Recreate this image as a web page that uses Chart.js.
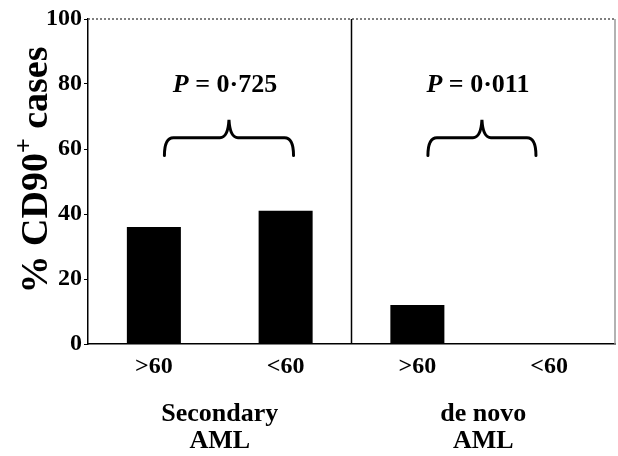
<!DOCTYPE html>
<html lang="en">
<head>
<meta charset="UTF-8">
<script src="https://cdn.jsdelivr.net/npm/chart.js@4.4.0/dist/chart.umd.min.js"></script>
<title>CD90 cases</title>
<style>
    body{margin:0; background:#fff;}
    canvas{display:block;}
</style>
</head>
<body>
<canvas id="myChart" width="618" height="456"></canvas>
<script>
    // data
    const categories = ['>60', '<60', '>60', '<60'];
    const values = [36, 41, 12, 0];
    const groupNames = [['Secondary', 'AML'], ['de novo', 'AML']];
    const pValues = ['0·725', '0·011'];
    const yTicks = [0, 20, 40, 60, 80, 100];
    const yTitle = ['% CD90', '+', ' cases'];

    const serif = "'Liberation Serif', 'Times New Roman', serif";

    // frame, divider, braces, p-values, axis title and group names
    const extras = {
        id: 'extras',
        afterDraw(chart) {
            const ctx = chart.ctx;
            const a = chart.chartArea;
            const x = chart.scales.x;
            const y = chart.scales.y;
            ctx.save();

            // dotted top line
            ctx.strokeStyle = '#555';
            ctx.lineWidth = 1.5;
            ctx.setLineDash([2, 2]);
            ctx.beginPath();
            ctx.moveTo(a.left, a.top);
            ctx.lineTo(a.right, a.top);
            ctx.stroke();
            ctx.setLineDash([]);

            // right border
            ctx.strokeStyle = '#999';
            ctx.lineWidth = 1.5;
            ctx.beginPath();
            ctx.moveTo(a.right, a.top);
            ctx.lineTo(a.right, a.bottom);
            ctx.stroke();

            // divider between the two groups
            const mid = (x.getPixelForValue(1) + x.getPixelForValue(2)) / 2;
            ctx.strokeStyle = '#000';
            ctx.lineWidth = 1.5;
            ctx.beginPath();
            ctx.moveTo(mid, a.top);
            ctx.lineTo(mid, a.bottom);
            ctx.stroke();

            const px = v => {
                const i = Math.floor(v);
                const f = v - i;
                const step = x.getPixelForValue(1) - x.getPixelForValue(0);
                return x.getPixelForValue(i) + f * step;
            };

            // braces
            const braces = [[0.08, 0.57, 1.06], [2.08, 2.49, 2.9]];
            const yEnd = y.getPixelForValue(58);
            const yArm = y.getPixelForValue(63.5);
            const yTop = y.getPixelForValue(69);
            ctx.lineWidth = 3;
            ctx.lineCap = 'round';
            braces.forEach(b => {
                const x0 = px(b[0]), xm = px(b[1]), x1 = px(b[2]);
                const r = 9;
                ctx.beginPath();
                ctx.moveTo(x0, yEnd);
                ctx.quadraticCurveTo(x0, yArm, x0 + r, yArm);
                ctx.lineTo(xm - r, yArm);
                ctx.quadraticCurveTo(xm - 1, yArm, xm, yTop);
                ctx.quadraticCurveTo(xm + 1, yArm, xm + r, yArm);
                ctx.lineTo(x1 - r, yArm);
                ctx.quadraticCurveTo(x1, yArm, x1, yEnd);
                ctx.stroke();
            });

            // p-values
            ctx.fillStyle = '#000';
            ctx.textBaseline = 'middle';
            ctx.textAlign = 'left';
            const yP = y.getPixelForValue(79.5);
            const italic = 'italic bold 26px ' + serif;
            const bold = 'bold 26px ' + serif;
            pValues.forEach((p, k) => {
                const cx = px(braces[k][1]) - 4;
                ctx.font = italic;
                const w1 = ctx.measureText('P').width;
                ctx.font = bold;
                const rest = ' = ' + p;
                const w2 = ctx.measureText(rest).width;
                const sx = cx - (w1 + w2) / 2;
                ctx.font = italic;
                ctx.fillText('P', sx, yP);
                ctx.font = bold;
                ctx.fillText(rest, sx + w1, yP);
            });

            // y axis title, with a raised plus sign
            ctx.save();
            ctx.translate(47, 170);
            ctx.rotate(-Math.PI / 2);
            ctx.textBaseline = 'alphabetic';
            const big = 'bold 38px ' + serif;
            const small = 'bold 26px ' + serif;
            ctx.font = big;
            const t1 = ctx.measureText(yTitle[0]).width;
            const t3 = ctx.measureText(yTitle[2]).width;
            ctx.font = small;
            const t2 = ctx.measureText(yTitle[1]).width;
            let tx = -(t1 + t2 + t3) / 2;
            ctx.font = big;
            ctx.fillText(yTitle[0], tx, 0);
            ctx.font = small;
            ctx.fillText(yTitle[1], tx + t1, -15);
            ctx.font = big;
            ctx.fillText(yTitle[2], tx + t1 + t2, 0);
            ctx.restore();

            // group names under the axis
            ctx.textAlign = 'center';
            ctx.font = 'bold 26px ' + serif;
            groupNames.forEach((g, k) => {
                const cx = (x.getPixelForValue(2 * k) + x.getPixelForValue(2 * k + 1)) / 2;
                ctx.fillText(g[0], cx, 414);
                ctx.fillText(g[1], cx, 441);
            });

            ctx.restore();
        }
    };

    const ctx = document.getElementById('myChart').getContext('2d');
    const myChart = new Chart(ctx, {
        type: 'bar',
        data: {
            labels: categories,
            datasets: [{
                data: values,
                backgroundColor: '#000',
                borderWidth: 0,
                barPercentage: 0.41,
                categoryPercentage: 1
            }]
        },
        options: {
            responsive: false,
            animation: false,
            devicePixelRatio: 1,
            layout: {padding: {top: 19, right: 3, left: 0, bottom: 0}},
            plugins: {legend: {display: false}, tooltip: {enabled: false}},
            scales: {
                x: {
                    grid: {display: false, drawTicks: false},
                    border: {display: true, color: '#000', width: 1.5},
                    ticks: {
                        color: '#000',
                        padding: 8,
                        font: {family: serif, size: 24, weight: 'bold'}
                    },
                    afterFit(scale) { scale.height = 112; }
                },
                y: {
                    min: 0,
                    max: 100,
                    afterBuildTicks(scale) {
                        scale.ticks = yTicks.map(v => ({value: v}));
                    },
                    grid: {drawOnChartArea: false, drawTicks: true, tickLength: 4, color: '#000', lineWidth: 1},
                    border: {display: true, color: '#000', width: 1.5},
                    ticks: {
                        color: '#000',
                        padding: 2,
                        font: {family: serif, size: 24, weight: 'bold'}
                    },
                    afterFit(scale) { scale.width = 88; }
                }
            }
        },
        plugins: [extras]
    });
</script>
</body>
</html>
